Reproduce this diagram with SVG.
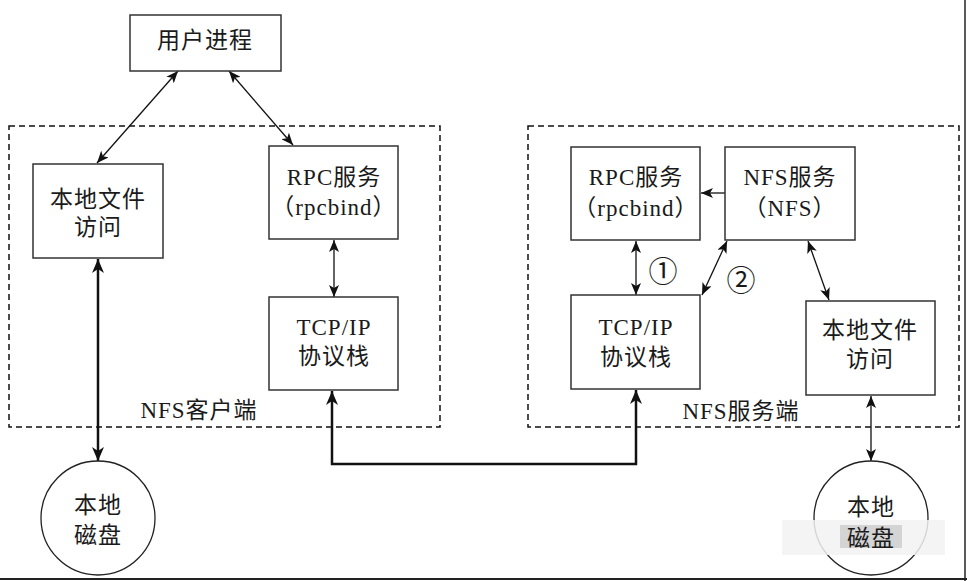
<svg xmlns="http://www.w3.org/2000/svg" width="967" height="581" viewBox="0 0 967 581">
<style>
  .box { fill: #fff; stroke: #333; stroke-width: 1.5; }
  .dash { fill: none; stroke: #111; stroke-width: 1.5; stroke-dasharray: 6 4; }
  .t { font-family: "Liberation Serif", "Noto Sans CJK SC", serif; font-size: 23px; fill: #1a1a1a; text-anchor: middle; dominant-baseline: central; letter-spacing: 1px; }
  .lbl { font-family: "Liberation Serif", "Noto Sans CJK SC", serif; font-size: 23px; fill: #1a1a1a; text-anchor: middle; dominant-baseline: central; letter-spacing: 1px; }
  .num { font-family: "Noto Sans CJK SC", "Liberation Serif", serif; font-size: 29px; fill: #1a1a1a; text-anchor: middle; dominant-baseline: central; }
  .c { fill: #fff; stroke: #222; stroke-width: 1.3; }
  .a { fill: none; stroke: #111; stroke-width: 1.3; }
  .ab { fill: none; stroke: #111; stroke-width: 2.5; }
</style>
<defs>
  <marker id="ah" viewBox="0 0 12 10" refX="12" refY="5" markerWidth="12" markerHeight="10" markerUnits="userSpaceOnUse" orient="auto-start-reverse">
    <path d="M0,0 L12,5 L0,10 L3,5 z" fill="#111"/>
  </marker>
  <marker id="ahb" viewBox="0 0 14 12" refX="14" refY="6" markerWidth="14" markerHeight="12" markerUnits="userSpaceOnUse" orient="auto-start-reverse">
    <path d="M0,0 L14,6 L0,12 L4,6 z" fill="#111"/>
  </marker>
</defs>
<rect width="967" height="581" fill="#fff"/>
<line x1="965" y1="0" x2="965" y2="581" stroke="#222" stroke-width="1.5"/>
<line x1="0" y1="579" x2="967" y2="579" stroke="#222" stroke-width="2"/>

<g id="client-frame">
  <rect class="dash" x="9" y="126" width="431" height="301"/>
  <text class="lbl" x="199" y="410">NFS客户端</text>
</g>
<g id="server-frame">
  <rect class="dash" x="528" y="126" width="431" height="301"/>
  <text class="lbl" x="741" y="411">NFS服务端</text>
</g>

<g id="connectors">
  <line class="a" x1="178" y1="71" x2="97" y2="163" marker-start="url(#ah)" marker-end="url(#ah)"/>
  <line class="a" x1="229" y1="71" x2="293" y2="145" marker-start="url(#ah)" marker-end="url(#ah)"/>
  <line class="a" x1="334" y1="240" x2="334" y2="297" marker-start="url(#ah)" marker-end="url(#ah)"/>
  <line class="ab" x1="98" y1="259" x2="98" y2="461" marker-start="url(#ahb)" marker-end="url(#ahb)"/>
  <polyline class="ab" points="332,391 332,464 636,464 636,390" marker-start="url(#ahb)" marker-end="url(#ahb)"/>
  <line class="a" x1="725" y1="193" x2="701" y2="193" marker-end="url(#ah)"/>
  <line class="a" x1="636" y1="241" x2="636" y2="295" marker-start="url(#ah)" marker-end="url(#ah)"/>
  <line class="a" x1="727" y1="241" x2="702" y2="295" marker-start="url(#ah)" marker-end="url(#ah)"/>
  <line class="a" x1="808" y1="241" x2="829" y2="300" marker-start="url(#ah)" marker-end="url(#ah)"/>
  <line class="a" x1="871" y1="396" x2="871" y2="461" marker-start="url(#ah)" marker-end="url(#ah)"/>
  <text class="num" x="663" y="269">①</text>
  <text class="num" x="741" y="278">②</text>
</g>

<g id="user-process">
  <rect class="box" x="130" y="15" width="151" height="56"/>
  <text class="t" x="205" y="40">用户进程</text>
</g>
<g id="client-local-file">
  <rect class="box" x="33" y="164" width="130" height="94"/>
  <text class="t" x="98" y="199">本地文件</text>
  <text class="t" x="98" y="227">访问</text>
</g>
<g id="client-rpc">
  <rect class="box" x="269" y="146" width="129" height="93"/>
  <text class="t" x="334" y="177">RPC服务</text>
  <text class="t" x="334" y="207">（rpcbind）</text>
</g>
<g id="client-tcpip">
  <rect class="box" x="269" y="297" width="129" height="93"/>
  <text class="t" x="334" y="327">TCP/IP</text>
  <text class="t" x="334" y="356">协议栈</text>
</g>
<g id="client-disk">
  <circle class="c" cx="98" cy="518" r="57"/>
  <text class="t" x="98" y="505">本地</text>
  <text class="t" x="98" y="535">磁盘</text>
</g>

<g id="server-rpc">
  <rect class="box" x="571" y="147" width="129" height="93"/>
  <text class="t" x="636" y="177">RPC服务</text>
  <text class="t" x="636" y="208">（rpcbind）</text>
</g>
<g id="server-nfs">
  <rect class="box" x="725" y="147" width="130" height="93"/>
  <text class="t" x="790" y="177">NFS服务</text>
  <text class="t" x="790" y="208">（NFS）</text>
</g>
<g id="server-tcpip">
  <rect class="box" x="571" y="295" width="129" height="94"/>
  <text class="t" x="636" y="327">TCP/IP</text>
  <text class="t" x="636" y="357">协议栈</text>
</g>
<g id="server-local-file">
  <rect class="box" x="806" y="301" width="129" height="94"/>
  <text class="t" x="870" y="330">本地文件</text>
  <text class="t" x="870" y="359">访问</text>
</g>
<g id="server-disk">
  <circle class="c" cx="871" cy="518" r="57"/>
  <rect x="782" y="520" width="163" height="35" fill="#f2f2f2" opacity="0.85"/>
  <rect x="840" y="525" width="62" height="23" fill="#d4d4d4"/>
  <text class="t" x="871" y="507">本地</text>
  <text class="t" x="871" y="538">磁盘</text>
</g>
</svg>
